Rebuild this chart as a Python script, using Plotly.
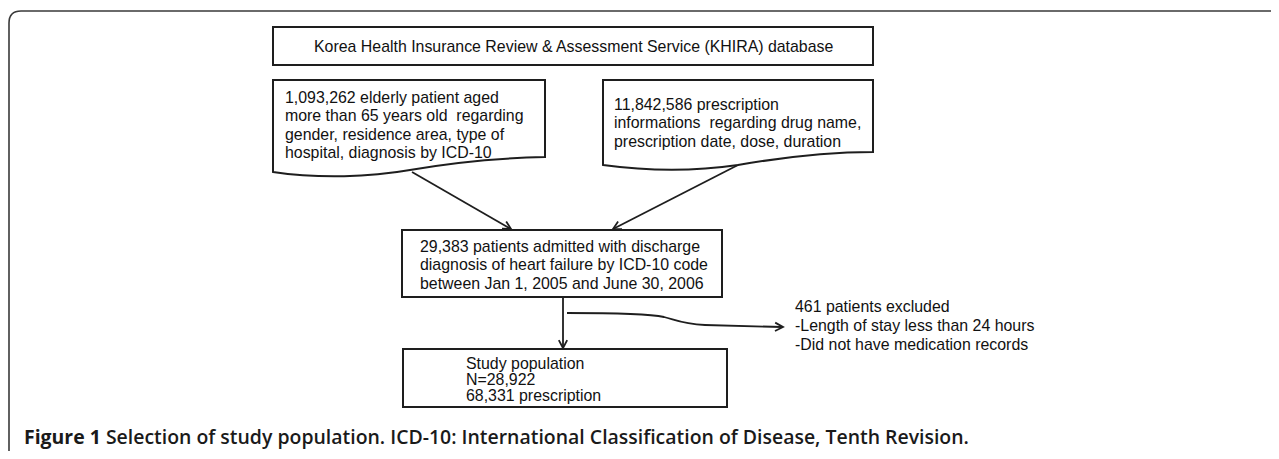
import math
import plotly.graph_objects as go

# ---- chart content (text of the flowchart) ----
top_box_text = ["Korea Health Insurance Review & Assessment Service (KHIRA) database"]
left_box_lines = [
    "1,093,262 elderly patient aged",
    "more than 65 years old  regarding",
    "gender, residence area, type of",
    "hospital, diagnosis by ICD-10",
]
right_box_lines = [
    "11,842,586 prescription",
    "informations  regarding drug name,",
    "prescription date, dose, duration",
]
middle_box_lines = [
    "29,383 patients admitted with discharge",
    "diagnosis of heart failure by ICD-10 code",
    "between Jan 1, 2005 and June 30, 2006",
]
excluded_lines = [
    "461 patients excluded",
    "-Length of stay less than 24 hours",
    "-Did not have medication records",
]
study_lines = [
    "Study population",
    "N=28,922",
    "68,331 prescription",
]
caption_label = "Figure 1"
caption_text = "Selection of study population. ICD-10: International Classification of Disease, Tenth Revision."

W, H = 1279, 459
PAD = 8  # page body margin of the HTML page
LINE = "#1e1e1e"
FONT = "Liberation Sans"
FS = 15.9

fig = go.Figure()
shapes = []
annotations = []


def add_lines(lines, x, y0, dy, xanchor="left"):
    for i, t in enumerate(lines):
        annotations.append(dict(
            x=x, y=y0 + i * dy, xref="x", yref="y", text=t, showarrow=False,
            xanchor=xanchor, yanchor="middle",
            font=dict(family=FONT, size=FS, color="#111111"),
        ))


def arrowhead(x0, y0, x1, y1, L=9, ang=28):
    a = math.atan2(y1 - y0, x1 - x0)
    pts = []
    for s in (1, -1):
        b = a + math.pi + s * math.radians(ang)
        pts.append((x1 + L * math.cos(b), y1 + L * math.sin(b)))
    p = f"M {pts[0][0]:.1f},{pts[0][1]:.1f} L {x1},{y1} L {pts[1][0]:.1f},{pts[1][1]:.1f}"
    shapes.append(dict(type="path", path=p, line=dict(color=LINE, width=1.8)))


def arrow(x0, y0, x1, y1):
    shapes.append(dict(type="line", x0=x0, y0=y0, x1=x1, y1=y1, line=dict(color=LINE, width=1.8)))
    arrowhead(x0, y0, x1, y1)


# outer frame (top + left with rounded corner)
shapes.append(dict(type="path", path="M 9,470 L 9,23 Q 9,11 21,11 L 1290,11",
                   line=dict(color="#3a3a3a", width=1.6)))

# top box
shapes.append(dict(type="rect", x0=273, y0=27, x1=873, y1=65, line=dict(color=LINE, width=2)))
add_lines(top_box_text, 573, 46, 0, xanchor="center")

# left document box
shapes.append(dict(type="path",
                   path="M 273,80 L 545,80 L 545,157 C 500,158 450,163 410,170 C 370,177 320,179 273,172 Z",
                   line=dict(color=LINE, width=2)))
add_lines(left_box_lines, 283, 97, 18.5)

# right document box
shapes.append(dict(type="path",
                   path="M 603,80 L 873,80 L 873,152 C 830,152 790,156 738,165 C 690,172 640,170 603,165 Z",
                   line=dict(color=LINE, width=2)))
add_lines(right_box_lines, 612, 104, 18.5)

# arrows into middle box
arrow(412, 172, 511, 229)
arrow(738, 165, 613, 229)

# middle box
shapes.append(dict(type="rect", x0=402, y0=230, x1=722, y1=297, line=dict(color=LINE, width=2)))
add_lines(middle_box_lines, 418, 246, 18.5)

# vertical arrow to study box
arrow(563, 297, 563, 348)

# exclusion curved arrow
shapes.append(dict(type="path",
                   path="M 567,313 C 620,313 650,314 664,317 C 676,320 682,324 705,325 L 782,327",
                   line=dict(color=LINE, width=1.8)))
arrowhead(740, 326, 783, 327)
add_lines(excluded_lines, 793, 306, 19)

# study population box
shapes.append(dict(type="rect", x0=403, y0=349, x1=727, y1=407, line=dict(color=LINE, width=2)))
add_lines(study_lines, 464, 363, 16)

# caption
annotations.append(dict(
    x=22, y=436, xref="x", yref="y", showarrow=False, xanchor="left", yanchor="middle",
    text=f"<b>{caption_label}</b> {caption_text}",
    font=dict(family="Open Sans", size=19.45, color="#1a1a1a", weight=600),
))

fig.update_layout(
    width=W - 2 * PAD, height=H - 2 * PAD,
    margin=dict(l=0, r=0, t=0, b=0),
    paper_bgcolor="white", plot_bgcolor="white",
    xaxis=dict(range=[PAD, W - PAD], visible=False, fixedrange=True),
    yaxis=dict(range=[H - PAD, PAD], visible=False, fixedrange=True),
    shapes=shapes, annotations=annotations, showlegend=False,
)

fig.write_html("out.html", config={"displayModeBar": False})
